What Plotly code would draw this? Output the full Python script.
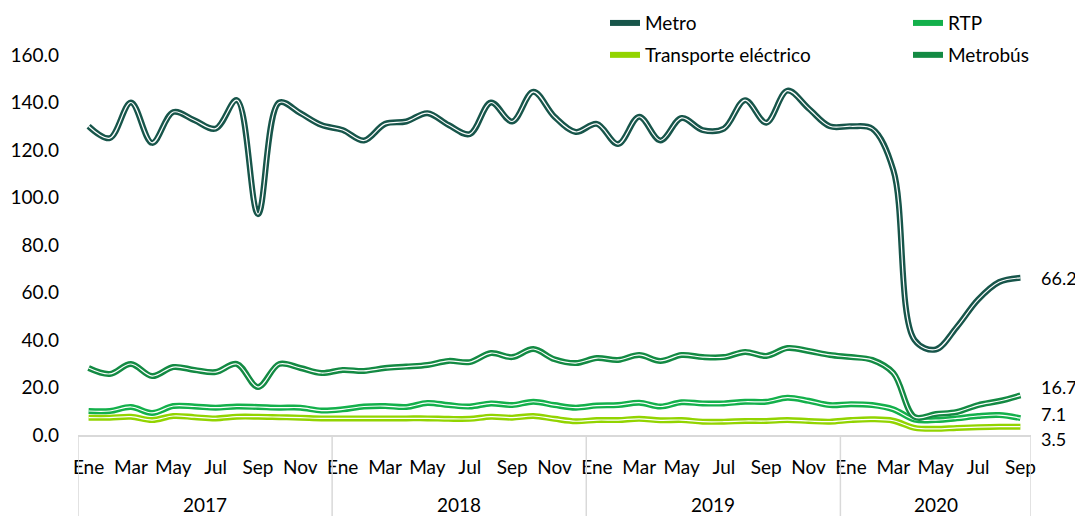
import plotly.graph_objects as go

# ---- data ----
years = ["2017", "2018", "2019", "2020"]
month_names = ["Ene", "Feb", "Mar", "Abr", "May", "Jun", "Jul", "Ago", "Sep", "Oct", "Nov", "Dic"]
n_months = 45  # Ene 2017 .. Sep 2020

metro = [130, 125, 140, 123, 136, 132.5, 129, 141, 93, 140, 135.5, 130.5,
         128.4, 124, 131, 132, 135.5, 130.5, 126.7, 140, 132, 144.5, 134, 127.6,
         131, 122.5, 134, 124, 133.5, 128.4, 129, 141, 131.5, 145, 137.5, 130,
         130, 129, 111.5, 40, 36, 45.5, 57, 64.4, 66.2]
rtp = [10.1, 10.1, 11.8, 9.3, 12.2, 12, 11.5, 12, 11.8, 11.5, 11.5, 10.3,
       10.8, 12, 12.2, 11.8, 13.5, 12.6, 12, 13.3, 12.6, 14, 12.6, 11.5,
       12.4, 12.6, 13.6, 12, 13.8, 13.3, 13.3, 14, 14, 15.7, 14.4, 12.6,
       13, 12.6, 10.8, 6.5, 6.3, 7, 8, 8.4, 7.1]
electrico = [7.3, 7.3, 7.7, 6.3, 8, 7.5, 7, 7.7, 7.7, 7.5, 7.3, 7,
             7, 7, 7, 7, 7, 6.8, 6.8, 7.7, 7.3, 8, 6.8, 5.8,
             6.3, 6.3, 6.8, 6.2, 6.3, 5.6, 5.6, 5.9, 5.9, 6.3, 5.9, 5.6,
             6.3, 6.6, 6, 3, 2.6, 3, 3.3, 3.5, 3.5]
metrobus = [28.2, 25.7, 29.9, 24.8, 28.6, 27.4, 26.5, 29.9, 20.2, 29.9, 28.2, 26.1,
            27.4, 27, 28.2, 28.8, 29.5, 31.2, 30.7, 34.5, 32.8, 36.2, 31.9, 30.3,
            32.4, 31.6, 33.7, 31.2, 33.7, 32.8, 32.8, 35, 33.3, 36.6, 35.4, 33.7,
            32.8, 31.6, 26.1, 7.6, 8.8, 9.7, 12.6, 14.3, 16.7]

series_names = ["Metro", "RTP", "Transporte eléctrico", "Metrobús"]
series_values = [metro, rtp, electrico, metrobus]
series_colors = ["#17554a", "#13b04b", "#92d400", "#138a43"]
series_legend = ["legend", "legend", "legend2", "legend2"]
label_yshift = [0, 4, -12, 8]

x = list(range(n_months))
tick_vals = x[::2]
tick_text = [month_names[i % 12] for i in tick_vals]

FONT = "Lato"
FS = 19
W, H = 1075, 508  # page body adds an 8px offset
fig = go.Figure()

draw_order = [0, 2, 1, 3]
for i in draw_order:
    fig.add_trace(go.Scatter(
        x=x, y=series_values[i], name=series_names[i], mode="lines",
        line=dict(color=series_colors[i], width=6, shape="spline", smoothing=1),
        legend=series_legend[i], legendrank=[1, 2, 1, 2][i],
        hoverinfo="skip"))
    fig.add_trace(go.Scatter(
        x=x, y=series_values[i], mode="lines", showlegend=False,
        line=dict(color="white", width=1.2, shape="spline", smoothing=1),
        hoverinfo="skip"))

# end-value labels
for i in range(4):
    fig.add_annotation(x=x[-1], y=series_values[i][-1], text=f"{series_values[i][-1]:.1f}",
                       showarrow=False, xanchor="left", xshift=19, yshift=label_yshift[i],
                       font=dict(family=FONT, size=18, color="#000000"))

# year group separators and labels
bounds = [-0.5, 11.5, 23.5, 35.5, n_months - 0.5]
for b in bounds:
    fig.add_shape(type="line", xref="x", yref="paper", x0=b, x1=b, y0=0, y1=-0.22,
                  line=dict(color="#d9d9d9", width=1.5))
for k, yr in enumerate(years):
    fig.add_annotation(x=(bounds[k] + bounds[k + 1]) / 2, y=-0.182, xref="x", yref="paper",
                       text=yr, showarrow=False, yanchor="middle",
                       font=dict(family=FONT, size=FS, color="#000000"))

fig.update_layout(
    width=W, height=H,
    margin=dict(l=70, r=52, t=47, b=81, autoexpand=False),
    paper_bgcolor="white", plot_bgcolor="white",
    font=dict(family=FONT, size=FS, color="#000000"),
    showlegend=True,
    legend=dict(orientation="h", xref="container", yref="paper",
                x=597 / W, y=1.084, xanchor="left", yanchor="middle",
                entrywidth=258, entrywidthmode="pixels",
                font=dict(family=FONT, size=FS), bgcolor="rgba(0,0,0,0)"),
    legend2=dict(orientation="h", xref="container", yref="paper",
                 x=597 / W, y=1.0, xanchor="left", yanchor="middle",
                 entrywidth=258, entrywidthmode="pixels",
                 font=dict(family=FONT, size=FS), bgcolor="rgba(0,0,0,0)"),
)
fig.update_xaxes(range=[-0.5, n_months - 0.5], tickmode="array", tickvals=tick_vals,
                 ticktext=tick_text, showgrid=False, zeroline=False,
                 showline=True, linecolor="#d9d9d9", linewidth=1.5, ticks="",
                 ticklabelstandoff=14, tickfont=dict(family=FONT, size=FS))
fig.update_yaxes(range=[0, 160], dtick=20, tickformat=".1f", showgrid=False,
                 zeroline=False, showline=False, ticks="", ticklabelstandoff=18,
                 tickfont=dict(family=FONT, size=FS))

fig.write_html("out.html")
